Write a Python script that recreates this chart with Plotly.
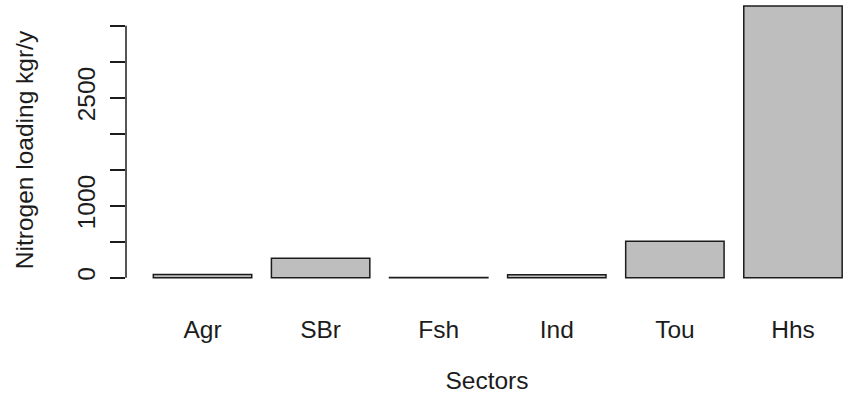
import plotly.graph_objects as go

# Nitrogen loading per sector (kg/y)
sectors = ["Agr", "SBr", "Fsh", "Ind", "Tou", "Hhs"]
loading = [45, 270, 3, 42, 505, 3772]

# y-axis ticks: every 500, only some labelled
y_tick_vals = [0, 500, 1000, 1500, 2000, 2500, 3000, 3500]
y_tick_text = ["0", "", "1000", "", "", "2500", "", ""]

FONT = "Liberation Sans, Arial, sans-serif"
INK = "#1c1c1c"
FS = 24.5

fig = go.Figure(
    go.Bar(
        x=sectors,
        y=loading,
        marker=dict(color="#BEBEBE", line=dict(color=INK, width=1.5)),
        hoverinfo="x+y",
    )
)

# axis line spanning only the tick range
fig.add_shape(
    type="line",
    xref="paper", yref="y",
    x0=0, x1=0,
    y0=y_tick_vals[0], y1=y_tick_vals[-1],
    line=dict(color=INK, width=1.5),
)

fig.update_layout(
    width=848,
    height=398,
    margin=dict(l=126, r=0, t=0, b=98),
    paper_bgcolor="white",
    plot_bgcolor="white",
    font=dict(family=FONT, size=FS, color=INK),
    bargap=1 - 1 / 1.2,
    showlegend=False,
    xaxis=dict(
        range=[-0.648, 5.466],
        showline=False,
        showgrid=False,
        zeroline=False,
        ticks="",
        ticklabelstandoff=12,
        tickfont=dict(size=FS),
        title=dict(text="Sectors", font=dict(size=FS), standoff=30),
        automargin=False,
    ),
    yaxis=dict(
        range=[-310, 3857],
        tickmode="array",
        tickvals=y_tick_vals,
        ticktext=y_tick_text,
        tickangle=-90,
        ticks="outside",
        ticklen=15,
        tickwidth=1.5,
        tickcolor=INK,
        ticklabelstandoff=5,
        showline=False,
        showgrid=False,
        zeroline=False,
        tickfont=dict(size=FS),
        title=dict(text="Nitrogen loading kgr/y", font=dict(size=FS), standoff=32),
        automargin=False,
    ),
)

fig.write_html("out.html")
